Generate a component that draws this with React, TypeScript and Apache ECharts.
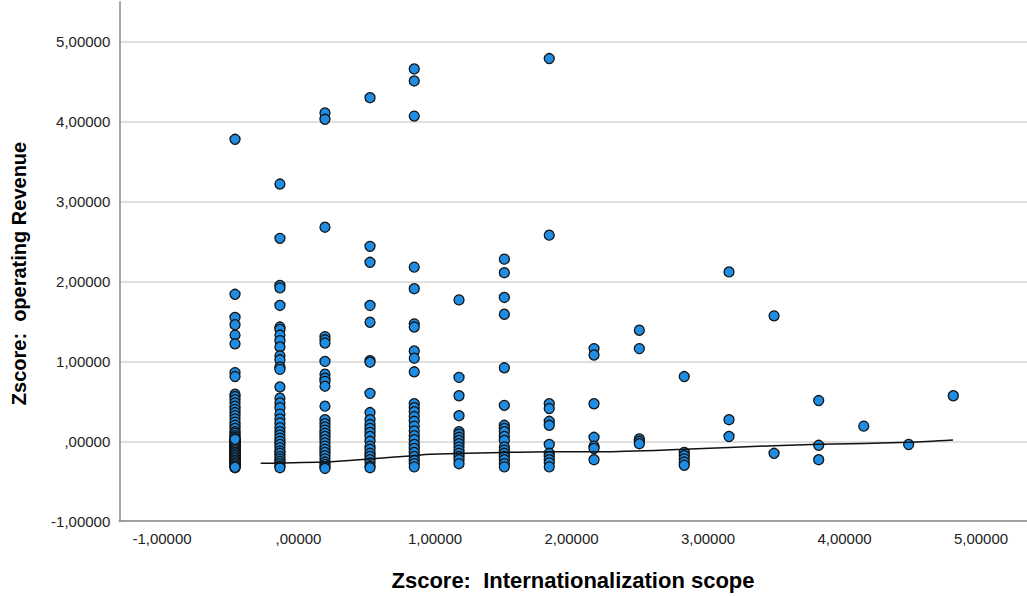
import React, { useEffect, useRef } from "react";
import * as echarts from "echarts";

// x levels (Zscore: Internationalization scope) of the point columns
const xLevels = [-0.465, -0.136, 0.194, 0.524, 0.848, 1.176, 1.508, 1.837, 2.165, 2.497, 2.826, 3.154, 3.484, 3.811, 4.141, 4.47, 4.797];

// y values (Zscore: operating Revenue) per column
const c0 = [3.78, 1.84, 1.55, 1.46, 1.33, 1.22, 0.86, 0.81, 0.59, 0.56, 0.52, 0.48, 0.44, 0.4, 0.36, 0.32, 0.28, 0.24, 0.2, 0.16, 0.12, 0.1, 0.07, 0.05, 0.03, 0.02, 0.01, 0.0, -0.01, -0.02, -0.03, -0.04, -0.05, -0.06, -0.07, -0.08, -0.09, -0.1, -0.11, -0.12, -0.13, -0.14, -0.15, -0.16, -0.17, -0.18, -0.19, -0.2, -0.21, -0.22, -0.23, -0.24, -0.25, -0.26, -0.27, -0.28, -0.29, -0.3, -0.31, -0.32, -0.33];
// further overlapping cases in the dense lower part of the first column
const c0dense = [-0.315, -0.295, -0.275, -0.255, -0.235, -0.215, -0.195, -0.175, -0.155, -0.135, -0.115, -0.095, -0.075, -0.055, -0.035, -0.015, 0.005, 0.025, -0.325];
const c1 = [3.22, 2.54, 1.95, 1.92, 1.7, 1.43, 1.4, 1.33, 1.26, 1.18, 1.07, 1.02, 0.93, 0.9, 0.68, 0.54, 0.48, 0.42, 0.34, 0.28, 0.23, 0.17, 0.12, 0.08, 0.04, 0.0, -0.04, -0.08, -0.12, -0.15, -0.19, -0.22, -0.25, -0.28, -0.31, -0.33];
const c2 = [4.11, 4.03, 2.68, 1.31, 1.27, 1.23, 1.0, 0.84, 0.79, 0.75, 0.69, 0.44, 0.27, 0.22, 0.18, 0.14, 0.1, 0.06, 0.02, -0.02, -0.06, -0.1, -0.14, -0.18, -0.22, -0.26, -0.29, -0.32, -0.34];
const c3 = [4.3, 2.44, 2.24, 1.7, 1.49, 1.01, 0.99, 0.6, 0.36, 0.27, 0.21, 0.16, 0.11, 0.06, 0.0, -0.06, -0.1, -0.15, -0.19, -0.23, -0.27, -0.31, -0.33];
const c4 = [4.66, 4.51, 4.07, 2.18, 1.91, 1.47, 1.43, 1.13, 1.04, 0.87, 0.47, 0.42, 0.37, 0.31, 0.25, 0.19, 0.13, 0.07, 0.02, -0.04, -0.09, -0.14, -0.19, -0.24, -0.28, -0.32];
const c5 = [1.77, 0.8, 0.57, 0.32, 0.12, 0.09, 0.05, 0.01, -0.03, -0.07, -0.11, -0.15, -0.19, -0.23, -0.28];
const c6 = [2.28, 2.11, 1.8, 1.59, 0.92, 0.45, 0.2, 0.16, 0.12, 0.06, 0.01, -0.07, -0.11, -0.15, -0.19, -0.23, -0.28, -0.32];
const c7 = [4.79, 2.58, 0.47, 0.41, 0.25, 0.2, -0.04, -0.15, -0.19, -0.23, -0.27, -0.32];
const c8 = [1.16, 1.08, 0.47, 0.05, -0.06, -0.09, -0.23];
const c9 = [1.39, 1.16, 0.03, 0.0, -0.03];
const c10 = [0.81, -0.14, -0.18, -0.22, -0.26, -0.3];
const c11 = [2.12, 0.27, 0.06];
const c12 = [1.57, -0.15];
const c13 = [0.51, -0.05, -0.23];
const c14 = [0.19];
const c15 = [-0.04];
const c16 = [0.57];
const columns = [c0, c1, c2, c3, c4, c5, c6, c7, c8, c9, c10, c11, c12, c13, c14, c15, c16];

// fit line
const fitX = [-0.277, 0.231, 0.524, 0.839, 0.963, 1.5, 1.842, 2.209, 2.824, 3.484, 3.813, 4.472, 4.795];
const fitY = [-0.275, -0.255, -0.22, -0.18, -0.163, -0.14, -0.13, -0.13, -0.1, -0.055, -0.038, -0.013, 0.016];

const xTicks = [-1, 0, 1, 2, 3, 4, 5];

const xTitle = "Zscore:  Internationalization scope";
const yTitle = "Zscore:  operating Revenue";

function fmt(v: number): string {
  const neg = v < 0;
  let s = Math.abs(v).toFixed(5).replace(".", ",");
  if (s.startsWith("0,")) s = s.slice(1);
  return (neg ? "-" : "") + s;
}

const FONT = '"Liberation Sans", Arial, sans-serif';

export default function App() {
  const ref = useRef<HTMLDivElement>(null);
  useEffect(() => {
    if (!ref.current) return;
    const chart = echarts.init(ref.current, undefined, { renderer: "svg" });
    const points: number[][] = [];
    columns.forEach((col, i) => col.forEach((y) => points.push([xLevels[i], y])));
    c0dense.forEach((y) => points.push([xLevels[0], y]));
    const fit = fitX.map((x, i) => [x, fitY[i]]);
    chart.setOption({
      animation: false,
      backgroundColor: "#ffffff",
      grid: { left: 119.3, right: 0, top: 1.85, bottom: 74.8, containLabel: false },
      xAxis: {
        type: "value",
        min: -1.3128,
        max: 5.337,
        axisLine: { show: true, onZero: false, lineStyle: { color: "#8a8a8a", width: 1.5 } },
        axisTick: { show: false },
        splitLine: { show: false },
        axisLabel: {
          customValues: xTicks,
          formatter: (v: number) => fmt(v),
          color: "#222",
          fontSize: 15,
          fontFamily: FONT,
          margin: 10,
        },
      },
      yAxis: {
        type: "value",
        min: -1,
        max: 5.5,
        interval: 1,
        axisLine: { show: true, onZero: false, lineStyle: { color: "#8a8a8a", width: 1.5 } },
        axisTick: { show: false },
        splitLine: { show: true, showMaxLine: false, lineStyle: { color: "#d4d4d4", width: 1.5 } },
        axisLabel: {
          showMaxLabel: false,
          formatter: (v: number) => fmt(v),
          color: "#222",
          fontSize: 15,
          fontFamily: FONT,
          margin: 9,
        },
      },
      graphic: [
        {
          type: "text",
          x: 573,
          y: 580,
          style: {
            text: xTitle,
            font: `bold 22px ${FONT}`,
            fill: "#000",
            textAlign: "center",
            textVerticalAlign: "middle",
          },
        },
        {
          type: "text",
          x: 18.5,
          y: 273.5,
          rotation: Math.PI / 2,
          style: {
            text: yTitle,
            font: `bold 20px ${FONT}`,
            fill: "#000",
            textAlign: "center",
            textVerticalAlign: "middle",
          },
        },
      ],
      series: [
        {
          type: "scatter",
          data: points,
          symbol: "circle",
          symbolSize: 10,
          itemStyle: { color: "#1f8de3", borderColor: "#141414", borderWidth: 1.3, opacity: 1 },
          z: 2,
        },
        {
          type: "line",
          data: fit,
          showSymbol: false,
          symbol: "none",
          smooth: 0.3,
          lineStyle: { color: "#111", width: 1.5 },
          z: 3,
        },
      ],
    });
    return () => chart.dispose();
  }, []);
  return (
    <div
      ref={ref}
      style={{ position: "fixed", left: 0, top: 0, width: 1027, height: 596, background: "#fff" }}
    />
  );
}
